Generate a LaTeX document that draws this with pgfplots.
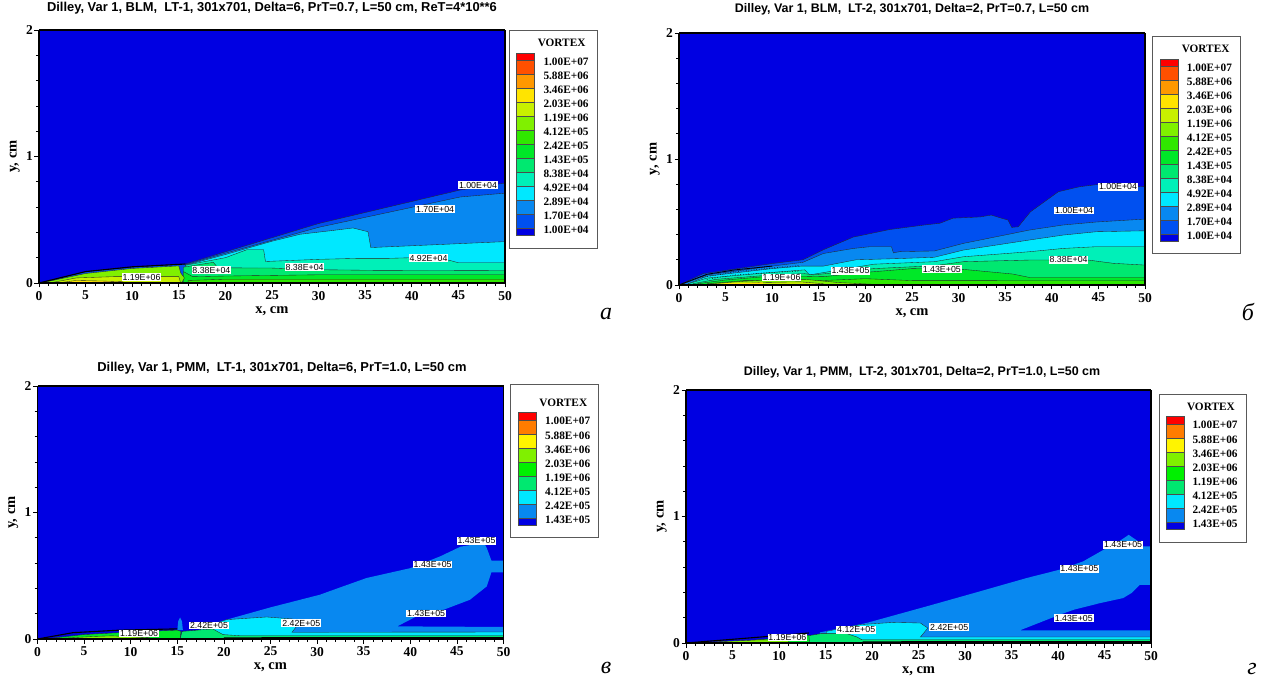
\documentclass[border=0pt]{standalone}
\usepackage{fontspec}
\setmainfont{Liberation Serif}
\newfontfamily\arial{Liberation Sans}
\usepackage{pgfplots}
\pgfplotsset{compat=1.18}
\newcommand\fs[1]{\fontsize{#1}{#1}\selectfont}
\definecolor{b0}{HTML}{0000E2}
\definecolor{b1}{HTML}{0050F0}
\definecolor{b2}{HTML}{0888F0}
\definecolor{cy}{HTML}{00E8FF}
\definecolor{aq}{HTML}{00F0B8}
\definecolor{gr1}{HTML}{00E870}
\definecolor{gr2}{HTML}{00E828}
\definecolor{gr3}{HTML}{30E800}
\definecolor{yg1}{HTML}{80F000}
\definecolor{yg2}{HTML}{C8F000}
\definecolor{ye}{HTML}{FFE400}
\definecolor{or}{HTML}{FF9800}
\definecolor{ro}{HTML}{FF5000}
\definecolor{re}{HTML}{FF0000}
\definecolor{or2}{HTML}{FF7C00}
\definecolor{ye2}{HTML}{FFF400}
\definecolor{gr4}{HTML}{00F000}
\pgfplotsset{
  panel/.style={
    scale only axis, axis on top, anchor=south west,
    xmin=0, xmax=50, ymin=0, ymax=2,
    xtick={0,5,...,50}, ytick={0,1,2},
    minor x tick num=4, minor y tick num=4,
    xtick pos=bottom, ytick pos=left, tick align=outside,
    major tick length=4.5pt, minor tick length=3pt,
    tick style={black,line width=0.7pt},
    axis line style={black,line width=1.1pt},
    separate axis lines,
    x axis line style={line width=1.8pt},
    y axis line style={line width=1.8pt},
    /pgf/number format/assume math mode=true,
    tick label style={font=\bfseries\fs{13.5}},
    yticklabel style={xshift=2pt},
    xlabel={x, cm}, ylabel={y, cm},
    every axis x label/.style={at={(axis description cs:0.5,-0.11)},anchor=center,font=\bfseries\fs{14.5}},
    every axis y label/.style={at={(axis description cs:-0.052,0.5)},rotate=90,anchor=center,font=\bfseries\fs{14.5}},
  },
  ct/.style={draw=black!85,line width=0.35pt,fill=#1},
}
\tikzset{lab/.style={fill=white,inner xsep=0.8pt,inner ysep=0.7pt,font=\arial\fs{8.8},text height=6.2pt,text depth=0pt}}
\newcommand\Legend[2]{% #1 colours, #2 labels
  \draw[gray!70!black,line width=0.9pt,fill=white] (\bL pt,682pt-\bT pt) rectangle (\bR pt,682pt-\bB pt);
  \node[anchor=east,font=\bfseries\fs{11.3}] at (\vR pt,682pt-\vY pt) {VORTEX};
  \foreach \c [count=\i from 0] in {#1} {
    \pgfmathsetmacro\ya{\i==0 ? \sT : \yO+(\i-1)*\sp}
    \pgfmathsetmacro\yb{\i==\nC ? \sB : \yO+\i*\sp}
    \draw[black!70,line width=0.4pt,fill=\c] (\sL pt,682pt-\ya pt) rectangle (\sR pt,682pt-\yb pt);
  }
  \foreach \t [count=\i from 0] in {#2} {
    \pgfmathsetmacro\ya{\yO+\tO+\i*\sp}
    \node[anchor=west,inner sep=0pt,font=\bfseries\fs{11.3}] at (\tL pt,682pt-\ya pt) {\t};
  }
}
\begin{document}
\begin{tikzpicture}[x=1pt,y=1pt]
\useasboundingbox (0,0) rectangle (1271,682);
\fill[white] (0,0) rectangle (1271,682);

% ---------- panel a ----------
\begin{axis}[panel, at={(39pt,399pt)}, width=466pt, height=253pt]
\addplot[draw=none,fill=b0] coordinates {(0,0)(50,0)(50,2)(0,2)} --cycle;
\addplot[ct=b1] coordinates {(0,0)(5,.09)(10,.125)(15.7,.15)(20,.246)(30,.47)(45.2,.735)(50,.79)(50,0)} --cycle;
\addplot[ct=b2] coordinates {(15.7,.145)(20,.235)(30,.44)(45.2,.68)(50,.71)(50,0)(15.7,0)} --cycle;
\addplot[ct=cy] coordinates {(15.7,.14)(20,.225)(25,.33)(28,.385)(31.5,.415)(33.7,.435)(35.3,.405)(35.6,.28)(50,.327)(50,0)(15.7,0)} --cycle;
\addplot[ct=aq] coordinates {(15.7,.14)(20,.2)(22.3,.263)(24.1,.263)(24.3,.17)(30,.187)(34.4,.195)(37.6,.195)(40,.2)(44,.18)(45,.16)(50,.16)(50,0)(15.7,0)} --cycle;
\addplot[ct=gr1] coordinates {(15.5,.125)(18.7,.163)(19.2,.12)(25,.118)(30,.105)(36,.1)(50,.097)(50,0)(15.5,0)} --cycle;
\addplot[ct=gr2] coordinates {(15.5,.09)(16.5,.05)(20,.055)(30,.065)(50,.065)(50,0)(15.5,0)} --cycle;
\addplot[ct=gr3] coordinates {(16,.02)(20,.03)(50,.03)(50,0)(16,0)} --cycle;
\addplot[ct=yg1] coordinates {(0.5,.005)(5,.075)(10,.115)(15,.135)(15.2,.08)(15.6,.04)(15.3,0)} --cycle;
\addplot[ct=yg2] coordinates {(1.5,.005)(4,.04)(8,.05)(12,.05)(15,.05)(15.2,0)} --cycle;
\addplot[ct=ye] coordinates {(2.5,.005)(4,.02)(7,.015)(9,.01)(9,0)(2.5,0)} --cycle;
\addplot[black,line width=1.1pt] coordinates {(0,0)(5,.09)(10,.128)(15.7,.15)};
\node[lab] at (axis cs:11.0,.047) {1.19E+06};
\node[lab] at (axis cs:18.5,.103) {8.38E+04};
\node[lab] at (axis cs:28.5,.127) {8.38E+04};
\node[lab] at (axis cs:41.8,.198) {4.92E+04};
\node[lab] at (axis cs:42.5,.585) {1.70E+04};
\node[lab] at (axis cs:47.1,.775) {1.00E+04};
\end{axis}

% ---------- panel b ----------
\begin{axis}[panel, at={(679pt,397pt)}, width=466pt, height=252pt]
\addplot[draw=none,fill=b0] coordinates {(0,0)(50,0)(50,2)(0,2)} --cycle;
\addplot[ct=b1] coordinates {(0,0)(2.6,.09)(10,.17)(13.3,.2)(15.5,.28)(18.7,.38)(22.6,.44)(26.2,.475)(28,.49)(29.4,.53)(32.3,.54)(33.5,.555)(34.6,.53)(35.3,.515)(35.7,.457)(36.4,.462)(37.7,.58)(40.7,.74)(43,.78)(45.2,.8)(50,.78)(50,0)} --cycle;
\addplot[ct=b2] coordinates {(.5,.01)(3,.08)(10,.15)(13.3,.18)(15.5,.25)(18.7,.29)(20.5,.304)(22.8,.304)(23,.255)(23.7,.265)(27.4,.27)(30.5,.33)(37.6,.436)(41.2,.476)(44.8,.5)(50,.523)(50,0)(.5,0)} --cycle;
\addplot[ct=cy] coordinates {(1,.01)(3,.07)(10,.13)(13.2,.15)(15.5,.15)(19,.2)(23.7,.21)(27.4,.22)(30.5,.277)(37.6,.357)(41.2,.396)(44.8,.423)(50,.43)(50,0)(1,0)} --cycle;
\addplot[ct=aq] coordinates {(1,.01)(3,.055)(10,.1)(13.5,.12)(14,.08)(20.9,.165)(27.4,.185)(30.5,.224)(37.6,.264)(41.2,.29)(44.8,.304)(50,.304)(50,0)(1,0)} --cycle;
\addplot[ct=gr1] coordinates {(1.5,.01)(4,.045)(10,.08)(13.5,.09)(14.4,.08)(20.9,.13)(27.4,.153)(30.5,.185)(37.6,.198)(43.9,.198)(46.6,.172)(50,.158)(50,0)(1.5,0)} --cycle;
\addplot[ct=gr2] coordinates {(2,.01)(5,.04)(9,.065)(13,.07)(15.5,.066)(20,.1)(25,.13)(30.5,.124)(35.8,.087)(37.6,.06)(50,.06)(50,0)(2,0)} --cycle;
\addplot[ct=gr3] coordinates {(3,.01)(7,.035)(13.7,.03)(20,.05)(25,.035)(37.6,.034)(50,.034)(50,0)(3,0)} --cycle;
\addplot[ct=yg1] coordinates {(3,.005)(7,.03)(10,.04)(13.5,.045)(17,.02)(21,.005)(21,0)(3,0)} --cycle;
\addplot[ct=yg2] coordinates {(4,.005)(9,.02)(13,.025)(15.5,.01)(15.5,0)(4,0)} --cycle;
\addplot[draw=none,fill=ye] coordinates {(3,.004)(5.7,.018)(9,.02)(9,.003)} --cycle;
\addplot[black,line width=0.8pt] coordinates {(0,0)(3,.085)(6,.12)(10,.15)};
\addplot[black,line width=0.6pt,dotted] coordinates {(2.5,.06)(6,.105)(10,.135)(13,.155)};
\addplot[black,line width=0.6pt,dotted] coordinates {(3,.045)(6,.08)(9,.095)(13,.11)};
\node[lab] at (axis cs:11.0,.06) {1.19E+06};
\node[lab] at (axis cs:18.4,.113) {1.43E+05};
\node[lab] at (axis cs:28.2,.125) {1.43E+05};
\node[lab] at (axis cs:41.8,.2) {8.38E+04};
\node[lab] at (axis cs:42.4,.59) {1.00E+04};
\node[lab] at (axis cs:47.1,.78) {1.00E+04};
\end{axis}

% ---------- panel c ----------
\begin{axis}[panel, at={(37.5pt,43pt)}, width=466pt, height=253pt]
\addplot[draw=none,fill=b0] coordinates {(0,0)(50,0)(50,2)(0,2)} --cycle;
\addplot[draw=none,fill=b2] coordinates {(17.4,.087)(20.3,.153)(25,.25)(30.3,.35)(31.8,.39)(35.3,.482)(40,.56)(43.2,.653)(45.4,.73)(47.9,.76)(48.2,.72)(48.7,.62)(50,.62)(50,.527)(48.7,.527)(48.2,.416)(46.4,.31)(43.6,.232)(40.7,.18)(38.6,.1)(50,.095)(50,0)(17.4,0)} --cycle;
\addplot[draw=none,fill=b2] coordinates {(15.0,.07)(15.1,.14)(15.3,.17)(15.5,.14)(15.6,.07)} --cycle;
\addplot[ct=cy] coordinates {(17.5,.085)(20.3,.153)(24.6,.174)(27.4,.158)(27.8,.1)(27.3,.053)(50,.055)(50,0)(17.5,0)} --cycle;
\addplot[ct=gr1] coordinates {(15.5,.06)(18.8,.08)(19.9,.035)(21.7,.026)(50,.026)(50,0)(15.3,0)} --cycle;
\addplot[ct=gr2] coordinates {(1,.002)(5,.035)(10,.055)(15,.07)(15.4,.06)(15.3,0)} --cycle;
\addplot[ct=yg1] coordinates {(2.5,.005)(6,.02)(8,.025)(12,.01)(12,0)(2.5,0)} --cycle;
\addplot[black,line width=1.1pt] coordinates {(0,0)(3.8,.05)(8.8,.07)(15,.08)};
\addplot[black,line width=0.9pt] coordinates {(20,.01)(50,.012)};
\node[lab] at (axis cs:10.9,.042) {1.19E+06};
\node[lab] at (axis cs:18.4,.108) {2.42E+05};
\node[lab] at (axis cs:28.3,.126) {2.42E+05};
\node[lab] at (axis cs:41.7,.2) {1.43E+05};
\node[lab] at (axis cs:42.4,.588) {1.43E+05};
\node[lab] at (axis cs:47.1,.777) {1.43E+05};
\end{axis}

% ---------- panel d ----------
\begin{axis}[panel, at={(686pt,39pt)}, width=465pt, height=253pt]
\addplot[draw=none,fill=b0] coordinates {(0,0)(50,0)(50,2)(0,2)} --cycle;
\addplot[draw=none,fill=b2] coordinates {(14.4,.084)(19.4,.158)(25.9,.29)(31.6,.408)(36.6,.513)(40.2,.58)(42.7,.645)(44.9,.737)(46.3,.79)(47.6,.855)(48.5,.81)(49,.763)(50,.763)(50,.46)(48.8,.46)(47.9,.395)(47,.355)(44.5,.315)(41.7,.263)(40.2,.224)(35.9,.1)(50,.1)(50,0)(14.4,0)} --cycle;
\addplot[ct=cy] coordinates {(15.1,.092)(18.7,.145)(22.3,.163)(25.2,.158)(26,.118)(25.2,.047)(50,.047)(50,0)(15.1,0)} --cycle;
\addplot[ct=gr1] coordinates {(13.2,.058)(14.5,.074)(17.3,.074)(18.4,.047)(18.9,.026)(50,.026)(50,0)(13.2,0)} --cycle;
\addplot[ct=gr2] coordinates {(7,.02)(10,.04)(13.2,.062)(13.3,0)(7,0)} --cycle;
\addplot[ct=yg1] coordinates {(1,.002)(4,.012)(8,.025)(11,.02)(11,0)(1,0)} --cycle;
\addplot[black,line width=1.1pt] coordinates {(0,0)(8,.047)(13.2,.079)};
\addplot[black,line width=0.9pt] coordinates {(19,.01)(50,.012)};
\node[lab] at (axis cs:10.9,.045) {1.19E+06};
\node[lab] at (axis cs:18.3,.105) {4.12E+05};
\node[lab] at (axis cs:28.3,.126) {2.42E+05};
\node[lab] at (axis cs:41.7,.197) {1.43E+05};
\node[lab] at (axis cs:42.3,.587) {1.43E+05};
\node[lab] at (axis cs:47.0,.776) {1.43E+05};
\end{axis}

% titles
\node[font=\arial\bfseries\fs{12.9}] at (272,682-8) {Dilley, Var 1, BLM,\ \ LT-1, 301x701, Delta=6, PrT=0.7, L=50 cm, ReT=4*10**6};
\node[font=\arial\bfseries\fs{12.45}] at (912,682-9) {Dilley, Var 1, BLM,\ \ LT-2, 301x701, Delta=2, PrT=0.7, L=50 cm};
\node[font=\arial\bfseries\fs{12.9}] at (282,682-368) {Dilley, Var 1, PMM,\ \ LT-1, 301x701, Delta=6, PrT=1.0, L=50 cm};
\node[font=\arial\bfseries\fs{12.45}] at (922,682-372) {Dilley, Var 1, PMM,\ \ LT-2, 301x701, Delta=2, PrT=1.0, L=50 cm};

% panel letters
\node[font=\itshape\fs{24}] at (606,682-314) {а};
\node[font=\itshape\fs{24}] at (1248,682-312) {б};
\node[font=\itshape\fs{24}] at (606,682-668) {в};
\node[font=\itshape\fs{24}] at (1252,682-669) {г};

% legends
\def\tO{1.3}
\def\nC{13}
\def\bL{509.5}\def\bT{30.5}\def\bR{597}\def\bB{248}\def\sL{516}\def\sR{534}\def\sT{53.3}\def\sB{235.3}\def\yO{60.7}\def\sp{14}\def\tL{543.3}\def\vR{589}\def\vY{43}
\Legend{re,ro,or,ye,yg2,yg1,gr3,gr2,gr1,aq,cy,b2,b1,b0}{1.00E+07,5.88E+06,3.46E+06,2.03E+06,1.19E+06,4.12E+05,2.42E+05,1.43E+05,8.38E+04,4.92E+04,2.89E+04,1.70E+04,1.00E+04}
\def\bL{1152.7}\def\bT{36.7}\def\bR{1240.7}\def\bB{253.3}\def\sL{1160}\def\sR{1178}\def\sT{59}\def\sB{241}\def\yO{66.5}\def\sp{14}\def\tL{1186.7}\def\vR{1233}\def\vY{49}
\Legend{re,ro,or,ye,yg2,yg1,gr3,gr2,gr1,aq,cy,b2,b1,b0}{1.00E+07,5.88E+06,3.46E+06,2.03E+06,1.19E+06,4.12E+05,2.42E+05,1.43E+05,8.38E+04,4.92E+04,2.89E+04,1.70E+04,1.00E+04}
\def\nC{8}
\def\bL{510.7}\def\bT{384}\def\bR{598.7}\def\bB{537.7}\def\sL{518.3}\def\sR{536}\def\sT{412.7}\def\sB{525}\def\yO{420}\def\sp{14.05}\def\tL{545}\def\vR{590.7}\def\vY{403}
\Legend{re,or2,ye2,yg1,gr4,gr1,cy,b2,b0}{1.00E+07,5.88E+06,3.46E+06,2.03E+06,1.19E+06,4.12E+05,2.42E+05,1.43E+05}
\def\bL{1159}\def\bT{394}\def\bR{1246.3}\def\bB{542.3}\def\sL{1166}\def\sR{1184}\def\sT{416.7}\def\sB{529}\def\yO{424}\def\sp{14.05}\def\tL{1192.3}\def\vR{1238.3}\def\vY{406.7}
\Legend{re,or2,ye2,yg1,gr4,gr1,cy,b2,b0}{1.00E+07,5.88E+06,3.46E+06,2.03E+06,1.19E+06,4.12E+05,2.42E+05,1.43E+05}
\end{tikzpicture}
\end{document}
